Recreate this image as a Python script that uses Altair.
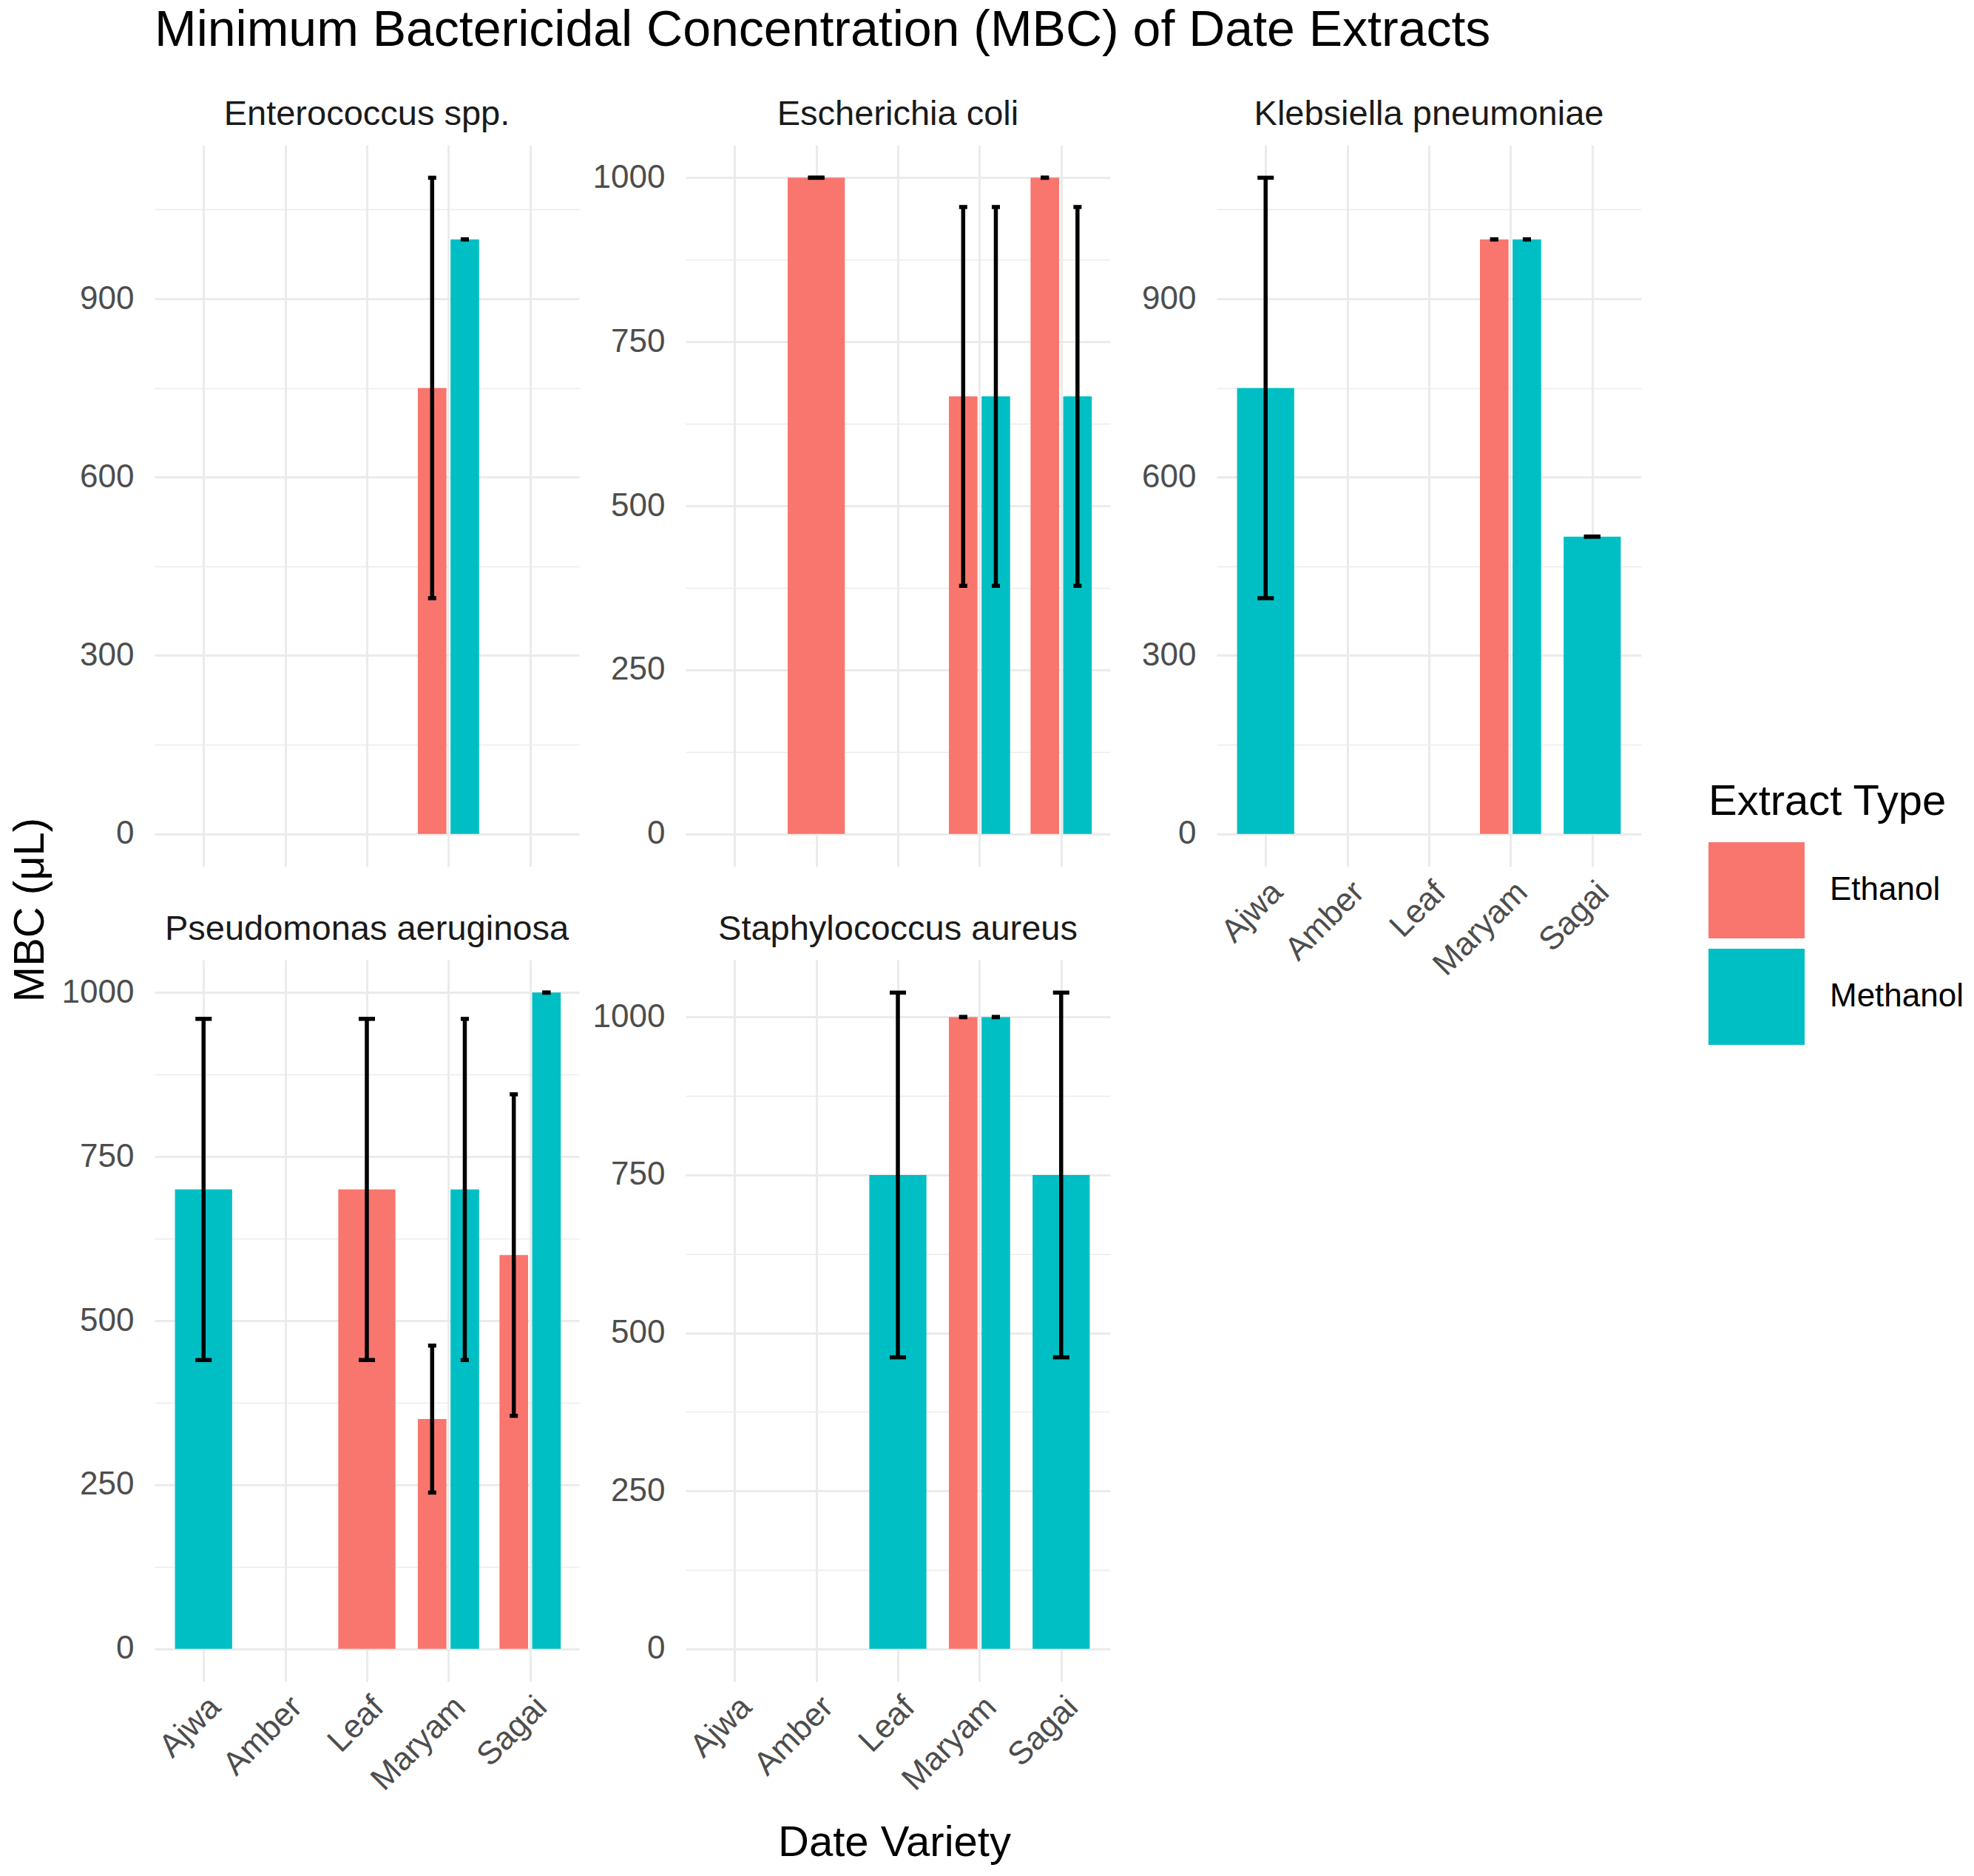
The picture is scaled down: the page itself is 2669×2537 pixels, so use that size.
import altair as alt
import pandas as pd

title_text = "Minimum Bactericidal Concentration (MBC) of Date Extracts"
pathogens = ["Enterococcus spp.", "Escherichia coli", "Klebsiella pneumoniae",
             "Pseudomonas aeruginosa", "Staphylococcus aureus"]
varieties = ["Ajwa", "Amber", "Leaf", "Maryam", "Sagai"]
extract_types = ["Ethanol", "Methanol"]
extract_colors = ["#F8766D", "#00BFC4"]

row_pathogen = (["Enterococcus spp."] * 2 + ["Escherichia coli"] * 5 +
                ["Klebsiella pneumoniae"] * 4 + ["Pseudomonas aeruginosa"] * 6 +
                ["Staphylococcus aureus"] * 4)
row_variety = ["Maryam", "Maryam",
               "Amber", "Maryam", "Maryam", "Sagai", "Sagai",
               "Ajwa", "Maryam", "Maryam", "Sagai",
               "Ajwa", "Leaf", "Maryam", "Maryam", "Sagai", "Sagai",
               "Leaf", "Maryam", "Maryam", "Sagai"]
row_extract = ["Ethanol", "Methanol",
               "Ethanol", "Ethanol", "Methanol", "Ethanol", "Methanol",
               "Methanol", "Ethanol", "Methanol", "Methanol",
               "Methanol", "Ethanol", "Ethanol", "Methanol", "Ethanol", "Methanol",
               "Methanol", "Ethanol", "Methanol", "Methanol"]
mbc_mean = [750, 1000,
            1000, 666.7, 666.7, 1000, 666.7,
            750, 1000, 1000, 500,
            700, 700, 350, 700, 600, 1000,
            750, 1000, 1000, 750]
mbc_sd = [353.6, 0,
          0, 288.7, 288.7, 0, 288.7,
          353.6, 0, 0, 0,
          260, 260, 112, 260, 245, 0,
          288.7, 0, 0, 288.7]

y_breaks = {
    "Enterococcus spp.": [0, 300, 600, 900],
    "Escherichia coli": [0, 250, 500, 750, 1000],
    "Klebsiella pneumoniae": [0, 300, 600, 900],
    "Pseudomonas aeruginosa": [0, 250, 500, 750, 1000],
    "Staphylococcus aureus": [0, 250, 500, 750, 1000],
}

FONT = "Liberation Sans"
DODGE, BAR_W, ERR_W = 0.8, 0.7, 0.2

df = pd.DataFrame({"pathogen": row_pathogen, "variety": row_variety,
                   "extract": row_extract, "mbc": mbc_mean, "sd": mbc_sd})
df["vidx"] = df["variety"].map({v: i + 1 for i, v in enumerate(varieties)})
grp = df.groupby(["pathogen", "variety"])
df["n"] = grp["extract"].transform("count")
df["rank"] = grp.cumcount()
df["xc"] = df["vidx"] + (df["rank"] - (df["n"] - 1) / 2) * DODGE / df["n"]
df["x0"] = df["xc"] - BAR_W / df["n"] / 2
df["x1"] = df["xc"] + BAR_W / df["n"] / 2
df["c0"] = df["xc"] - ERR_W / df["n"] / 2
df["c1"] = df["xc"] + ERR_W / df["n"] / 2
df["lo"] = df["mbc"] - df["sd"]
df["hi"] = df["mbc"] + df["sd"]

label_expr = "[" + ",".join("'%s'" % v for v in varieties) + "][datum.value - 1]"
PANEL_W = 574
PANEL_H = 976


def panel(name, show_x, x_title=None, y_title=None):
    d = df[df["pathogen"] == name]
    top = float(max(d["hi"].max(), d["mbc"].max()))
    dom = [-0.05 * top, 1.05 * top]
    majors = y_breaks[name]
    step = majors[1] - majors[0]
    minors = [m + step / 2 for m in [majors[0] - step] + majors]
    minors = [m for m in minors if dom[0] <= m <= dom[1]]
    vals = sorted(majors + minors)
    major_test = "datum.value %% %d === 0" % step

    xscale = alt.Scale(domain=[0.4, 5.6], nice=False, zero=False)
    yscale = alt.Scale(domain=dom, nice=False, zero=False)

    xaxis_kw = dict(values=[1, 2, 3, 4, 5], labelExpr=label_expr, ticks=False, domain=False,
                    gridColor="#EBEBEB", gridWidth=3, labels=show_x,
                    labelAngle=-45, labelAlign="right", labelBaseline="top",
                    labelFontSize=44, labelColor="#4D4D4D", labelPadding=12,
                    labelFont=FONT, labelOverlap=False, labelFlush=False,
                    labelBound=False, labelLimit=0)
    if x_title:
        xaxis_kw.update(titleFontSize=58, titleFontWeight="normal", titleColor="black",
                        titleFont=FONT, titleBaseline="alphabetic", titleX=282, titleY=235,
                        titleAnchor="middle", titleLimit=0)
    xaxis = alt.Axis(**xaxis_kw)

    yaxis_kw = dict(values=vals, format="d",
                    labelExpr="%s ? datum.label : ''" % major_test,
                    ticks=False, domain=False, gridColor="#EBEBEB",
                    gridWidth={"condition": {"test": major_test, "value": 3}, "value": 1.5},
                    labelFontSize=44, labelColor="#4D4D4D", labelPadding=28, labelFont=FONT,
                    labelOverlap=False, labelFlush=False, labelBound=False)
    if y_title:
        yaxis_kw.update(titleFontSize=58, titleFontWeight="normal", titleColor="black",
                        titleFont=FONT, titleAngle=270, titleX=-168, titleY=1034,
                        titleBaseline="middle", titleAlign="center", titleLimit=0)
    yaxis = alt.Axis(**yaxis_kw)

    xt = x_title if x_title else None
    yt = y_title if y_title else None

    base = alt.Chart(d)
    bars = base.mark_bar().encode(
        x=alt.X("x0:Q", scale=xscale, axis=xaxis, title=xt),
        x2="x1:Q",
        y=alt.Y("mbc:Q", scale=yscale, axis=yaxis, title=yt),
        y2=alt.datum(0),
        color=alt.Color("extract:N",
                        scale=alt.Scale(domain=extract_types, range=extract_colors),
                        legend=alt.Legend(title="Extract Type", orient="none",
                                          legendX=2101, legendY=860,
                                          symbolType="square", symbolSize=16900,
                                          symbolStrokeWidth=0, symbolOpacity=1,
                                          titleFontSize=58, titleFontWeight="normal",
                                          titleColor="black", titleFont=FONT,
                                          titlePadding=25, titleLimit=0,
                                          labelFontSize=44, labelLimit=0,
                                          labelColor="black", labelFont=FONT,
                                          labelOffset=34, rowPadding=14, padding=0)),
    )
    stem = base.mark_rule(color="black", strokeWidth=5.5).encode(
        x=alt.X("xc:Q", scale=xscale, axis=xaxis, title=xt),
        y=alt.Y("lo:Q", scale=yscale, axis=yaxis, title=yt),
        y2="hi:Q",
    )
    cap_hi = base.mark_rule(color="black", strokeWidth=5.5).encode(
        x=alt.X("c0:Q", scale=xscale, axis=xaxis, title=xt),
        x2="c1:Q",
        y=alt.Y("hi:Q", scale=yscale, axis=yaxis, title=yt),
    )
    cap_lo = base.mark_rule(color="black", strokeWidth=5.5).encode(
        x=alt.X("c0:Q", scale=xscale, axis=xaxis, title=xt),
        x2="c1:Q",
        y=alt.Y("lo:Q", scale=yscale, axis=yaxis, title=yt),
    )
    return alt.layer(bars, stem, cap_hi, cap_lo).properties(
        width=PANEL_W, height=PANEL_H,
        title=alt.TitleParams(name, fontSize=47, fontWeight="normal", color="#1A1A1A",
                              font=FONT, anchor="middle", frame="group",
                              baseline="alphabetic", offset=-20),
    )


p1 = panel(pathogens[0], False, y_title="MBC (μL)")
p2 = panel(pathogens[1], False)
p3 = panel(pathogens[2], True)
p4 = panel(pathogens[3], True)
p5 = panel(pathogens[4], True, x_title="Date Variety")

chart = alt.concat(p1, p2, p3, p4, p5, columns=3, bounds="flush",
                   spacing={"row": 126, "column": 144}).properties(
    title=alt.TitleParams(title_text, anchor="start", frame="group", fontSize=68,
                          fontWeight="normal", color="black", font=FONT,
                          baseline="alphabetic", offset=1),
    padding={"left": 12, "top": 8, "right": 10, "bottom": 10},
).configure(font=FONT).configure_view(stroke=None)

chart.save("out.html", embed_options={"renderer": "svg", "actions": False})
